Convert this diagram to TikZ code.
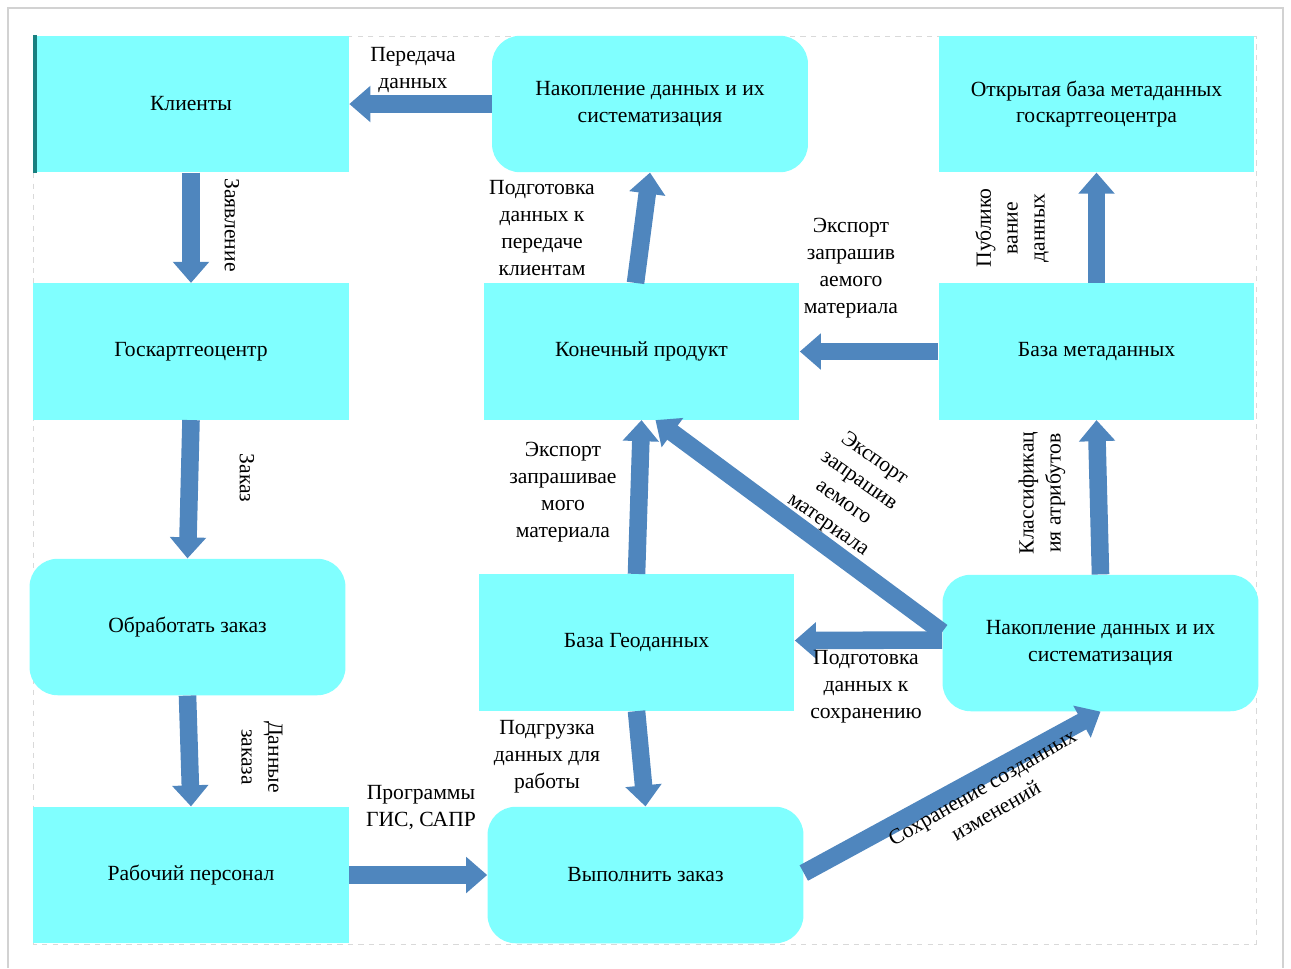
\documentclass[tikz,border=0pt]{standalone}
\usepackage{fontspec}
\setmainfont{Liberation Serif}
\usetikzlibrary{arrows.meta,calc}
\definecolor{boxcyan}{RGB}{128,255,255}
\definecolor{flowblue}{RGB}{79,134,190}
\tikzset{>={Triangle[width=20pt,length=12pt]}}
\tikzset{
  box/.style={rectangle, fill=boxcyan, minimum width=6.32cm, minimum height=2.73cm,
    align=center, inner sep=0pt},
  rbox/.style={box, rounded corners=16pt},
  flow/.style={draw=flowblue, line width=10pt, ->},
  lbl/.style={align=center, inner sep=0pt},
}

\begin{document}
\begin{tikzpicture}[x=0.02cm, y=-0.02cm,
  every node/.style={font=\fontsize{12.3}{15.3}\selectfont}]

  \useasboundingbox (0,0) rectangle (1291,968);

  %% page frame
  \draw[gray!35, line width=1.2pt] (8,968) -- (8,8) -- (1283,8) -- (1283,968);
  \draw[gray!30, dashed, line width=0.4pt] (33,36) rectangle (1256,944);

  %% left column
  \node[box]  (klienty)  at (191,104)   {Клиенты};
  \fill[teal!80!gray] (klienty.north west) rectangle ($(klienty.south west)+(4,0)$);
  \node[box]  (goskart)  at (191,351.5) {Госкартгеоцентр};
  \node[rbox] (obrab)    at (187.5,627) {Обработать заказ};
  \node[box]  (personal) at (191,875)   {Рабочий персонал};

  %% middle column
  \node[rbox] (nakopl1)  at (650,104)   {Накопление данных и их\\систематизация};
  \node[box]  (konprod)  at (641.5,351.5) {Конечный продукт};
  \node[box]  (geobaza)  at (636.5,642.5) {База Геоданных};
  \node[rbox] (vypoln)   at (645.5,875) {Выполнить заказ};

  %% right column
  \node[box]  (otkr)     at (1096.5,104) {Открытая база метаданных\\госкартгеоцентра};
  \node[box]  (metabaza) at (1096.5,351.5) {База метаданных};
  \node[rbox] (nakopl2)  at (1100.5,643) {Накопление данных и их\\систематизация};

  %% flows
  \draw[flow] (nakopl1.west) -- (klienty.east); % nakopl1->klienty
  \draw[flow] (klienty.south) -- (goskart.north);
  \draw[flow] (goskart.south) -- (obrab.north);
  \draw[flow] (obrab.south) -- (personal.north);
  \draw[flow] (personal.east) -- (vypoln.west);
  \draw[flow] ($(konprod.north)+(-6,0)$) -- (nakopl1.south);
  \draw[flow] (metabaza.west) -- (konprod.east);
  \draw[flow] (metabaza.north) -- (otkr.south);
  \draw[flow] (nakopl2.north) -- (metabaza.south);
  \draw[flow] ($(nakopl2.west)+(0,-3)$) -- ($(geobaza.east)+(0,-2)$);
  \draw[flow] ($(nakopl2.west)+(0,-11)$) -- ($(konprod.south)+(14,0)$); % diagonal
  \draw[flow] (geobaza.north) -- (konprod.south);
  \draw[flow] (geobaza.south) -- (vypoln.north);
  \draw[flow] ($(vypoln.east)+(0,-2)$) -- (nakopl2.south);

  %% labels
  \node[lbl] (lPered)  at (413,70)   {Передача\\данных};
  \node[lbl, rotate=-90] (lZayav) at (232,225) {Заявление};
  \node[lbl, rotate=-90] (lZakaz) at (247,478) {Заказ};
  \node[lbl, rotate=-90] (lDann)  at (262,757) {Данные\\заказа};
  \node[lbl] (lProg)   at (421,808)  {Программы\\ГИС, САПР};
  \node[lbl] (lPodgKl) at (542,228)  {Подготовка\\данных к\\передаче\\клиентам};
  \node[lbl] (lExp1)   at (851,268)  {Экспорт\\запрашив\\аемого\\материала};
  \node[lbl, rotate=90] (lPubl) at (1012,228) {Публико\\вание\\данных};
  \node[lbl, rotate=90] (lKlass) at (1042,493) {Классификац\\ия атрибутов};
  \node[lbl] (lExp2)   at (563,492)  {Экспорт\\запрашивае\\мого\\материала};
  \node[lbl, rotate=-35] (lExp3) at (851,492) {Экспорт\\запрашив\\аемого\\материала};
  \node[lbl] (lPodgS)  at (866,687)  {Подготовка\\данных к\\сохранению};
  \node[lbl] (lPodgr)  at (547,757)  {Подгрузка\\данных для\\работы};
  \node[lbl, rotate=30] (lSohr) at (989,799) {Сохранение созданных\\изменений};

\end{tikzpicture}
\end{document}
